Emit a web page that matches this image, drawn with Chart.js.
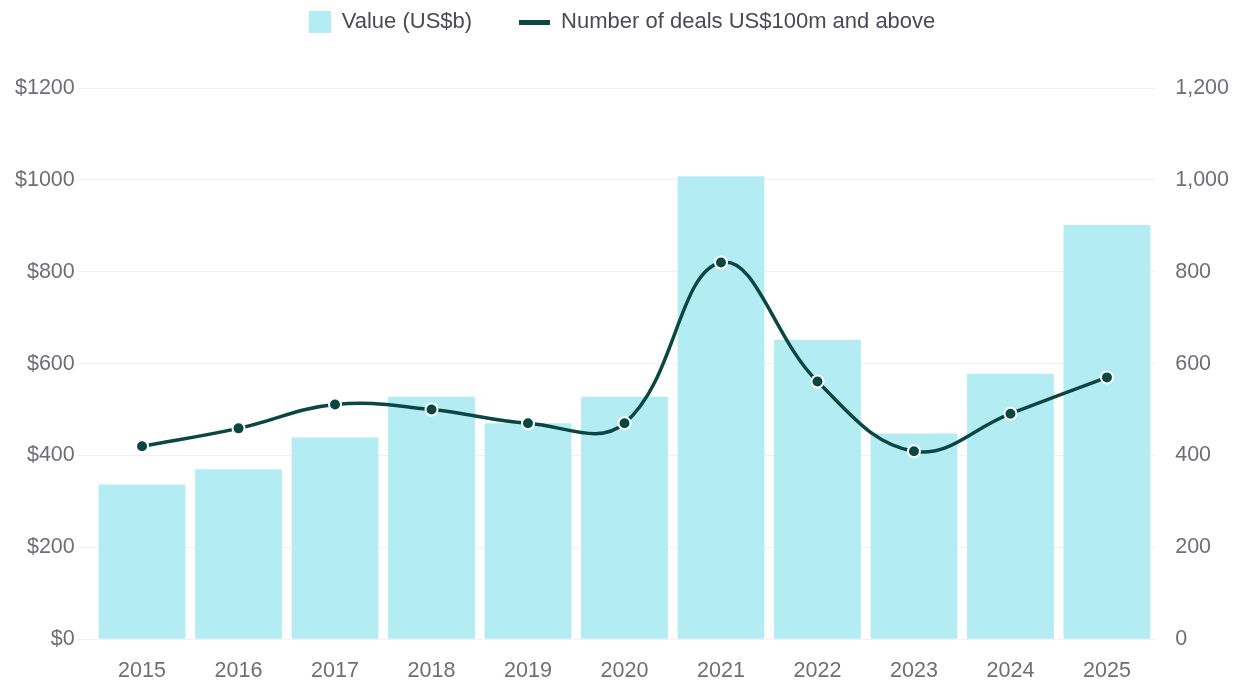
<!DOCTYPE html>
<html>
<head>
<meta charset="utf-8">
<script src="https://cdn.jsdelivr.net/npm/chart.js@4/dist/chart.umd.min.js"></script>
<style>
  html, body { margin: 0; padding: 0; background: #fff; }
  #wrap { width: 1244px; height: 686px; position: relative; }
</style>
</head>
<body>
<div id="wrap"><canvas id="dealsChart"></canvas></div>
<script>
const years = ['2015', '2016', '2017', '2018', '2019', '2020', '2021', '2022', '2023', '2024', '2025'];
const valueUSb = [337, 370, 439, 528, 470, 528, 1008, 652, 448, 578, 902];
const dealCount = [420, 459, 511, 500, 470, 470, 820, 561, 409, 491, 570];

const barColor = '#b4ecf3';
const lineColor = '#0b4742';
const tickColor = '#6e6e7a';
const tickFont = { family: "'Liberation Sans', Arial, sans-serif", size: 21.5 };
const legendFont = { family: "'Liberation Sans', Arial, sans-serif", size: 22 };

// legend swatches, both 31px wide so the text lines up after them
function swatch(w, h, fillX, fillW, color) {
  const c = document.createElement('canvas');
  c.width = w; c.height = h;
  const g = c.getContext('2d');
  g.fillStyle = color;
  g.fillRect(fillX, 0, fillW, h);
  return c;
}
const barSwatch = swatch(31, 22, 9, 22, barColor);
const lineSwatch = swatch(31, 5, 0, 31, lineColor);

// extra room under the legend row, and nudge the row left past the empty swatch edge
const legendGap = {
  id: 'legendGap',
  beforeInit(chart) {
    const fit = chart.legend.fit;
    chart.legend.fit = function () {
      fit.call(this);
      this.height += 45;
    };
  },
  afterLayout(chart) {
    chart.legend.left -= 9;
    chart.legend.right -= 9;
  }
};

const ctx = document.getElementById('dealsChart').getContext('2d');
new Chart(ctx, {
  data: {
    labels: years,
    datasets: [
      {
        type: 'line',
        label: 'Number of deals US$100m and above',
        data: dealCount,
        yAxisID: 'yDeals',
        borderColor: lineColor,
        backgroundColor: lineColor,
        borderWidth: 3.5,
        tension: 0.4,
        pointRadius: 6,
        pointBackgroundColor: lineColor,
        pointBorderColor: '#ffffff',
        pointBorderWidth: 2,
        order: 0
      },
      {
        type: 'bar',
        label: 'Value (US$b)',
        data: valueUSb,
        yAxisID: 'yValue',
        backgroundColor: barColor,
        borderWidth: 0,
        barPercentage: 0.9,
        categoryPercentage: 1.0,
        order: 1
      }
    ]
  },
  plugins: [legendGap],
  options: {
    responsive: true,
    maintainAspectRatio: false,
    animation: false,
    layout: { padding: { left: 12, right: 3, top: -36, bottom: -17 } },
    plugins: {
      legend: {
        position: 'top',
        reverse: true,
        labels: {
          color: '#4a4a55',
          font: legendFont,
          usePointStyle: true,
          pointStyleWidth: 31,
          boxHeight: 22,
          padding: 47,
          generateLabels(chart) {
            return Chart.defaults.plugins.legend.labels.generateLabels(chart).map(it => {
              const ds = chart.data.datasets[it.datasetIndex];
              it.pointStyle = ds.type === 'line' ? lineSwatch : barSwatch;
              return it;
            });
          }
        }
      },
      tooltip: { enabled: false }
    },
    scales: {
      x: {
        grid: { display: false, drawTicks: false },
        border: { display: false },
        ticks: { color: tickColor, font: tickFont, padding: 19 }
      },
      yValue: {
        position: 'left',
        min: 0,
        max: 1200,
        ticks: {
          stepSize: 200,
          color: tickColor,
          font: tickFont,
          padding: 3,
          callback: v => '$' + v
        },
        grid: { color: '#f1f1f1', tickLength: 16 },
        border: { display: false }
      },
      yDeals: {
        position: 'right',
        min: 0,
        max: 1200,
        ticks: {
          stepSize: 200,
          color: tickColor,
          font: tickFont,
          padding: 12,
          callback: v => v.toLocaleString('en-US')
        },
        grid: { display: false },
        border: { display: false }
      }
    }
  }
});
</script>
</body>
</html>
